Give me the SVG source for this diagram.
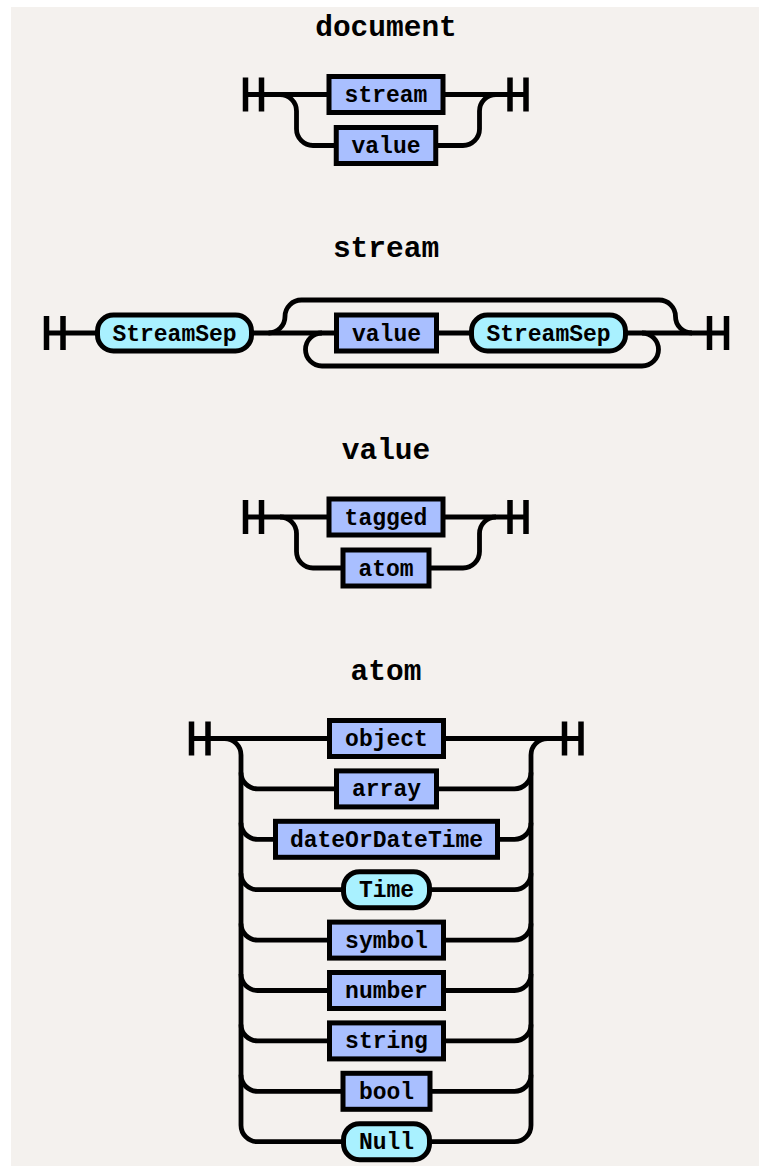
<svg xmlns="http://www.w3.org/2000/svg" width="759" height="1166" viewBox="0 0 759 1166">
<style>
.bg{fill:#F4F1EE}
.nt{fill:#A9BFFF;stroke:#000;stroke-width:5}
.tm{fill:#A9F1FF;stroke:#000;stroke-width:5}
.ln{fill:none;stroke:#000;stroke-width:4.8}
.bar{fill:none;stroke:#000;stroke-width:5.5}
.lbl{font-family:"Liberation Mono","DejaVu Sans Mono",monospace;font-weight:bold;font-size:23px;text-anchor:middle;fill:#000}
.title{font-family:"Liberation Mono","DejaVu Sans Mono",monospace;font-weight:bold;font-size:29.5px;text-anchor:middle;fill:#000}
</style>
<rect class="bg" x="11" y="7" width="748" height="1159"/>

<g id="titles">
<text class="title" x="386" y="36">document</text>
<text class="title" x="386" y="257">stream</text>
<text class="title" x="386" y="459">value</text>
<text class="title" x="386" y="680">atom</text>
</g>

<g id="connectors">
<!-- document -->
<path class="bar" d="M245.5 77.5V111.5M261.5 77.5V111.5M510 77.5V111.5M526 77.5V111.5"/>
<path class="ln" d="M245.5 94.5H329M443 94.5H526"/>
<path class="ln" d="M280 94.5A16.5 16.5 0 0 1 296.5 111V129A16.5 16.5 0 0 0 313 145.5H336.25M435.75 145.5H463A16.5 16.5 0 0 0 479.5 129V111A16.5 16.5 0 0 1 496 94.5"/>
<!-- stream -->
<path class="bar" d="M46.5 316V350M63 316V350M709.5 316V350M726.5 316V350"/>
<path class="ln" d="M46.5 333H97.5M251.5 333H336.5M436.5 333H471.5M625.5 333H726.5"/>
<path class="ln" d="M268.5 333A16.5 16.5 0 0 0 285 316.5A16.5 16.5 0 0 1 301.5 300H659A16.5 16.5 0 0 1 675.5 316.5A16.5 16.5 0 0 0 692 333"/>
<path class="ln" d="M642 333A16.5 16.5 0 0 1 658.5 349.5A16.5 16.5 0 0 1 642 366H322A16.5 16.5 0 0 1 305.5 349.5A16.5 16.5 0 0 1 322 333"/>
<!-- value -->
<path class="bar" d="M245.5 500V534M261.5 500V534M510 500V534M526 500V534"/>
<path class="ln" d="M245.5 517H329M443 517H526"/>
<path class="ln" d="M280 517A16.5 16.5 0 0 1 296.5 533.5V551.5A16.5 16.5 0 0 0 313 568H343M429 568H463A16.5 16.5 0 0 0 479.5 551.5V533.5A16.5 16.5 0 0 1 496 517"/>
<!-- atom -->
<path class="bar" d="M191.5 721.5V755.5M208 721.5V755.5M564.5 721.5V755.5M581 721.5V755.5"/>
<path class="ln" d="M191.5 738.5H329.5M443.5 738.5H581"/>
<path class="ln" d="M224.5 738.5A16.5 16.5 0 0 1 241 755V1125.2A16.5 16.5 0 0 0 257.5 1141.7H343.5M429.5 1141.7H514.5A16.5 16.5 0 0 0 531 1125.2V755A16.5 16.5 0 0 1 547.5 738.5"/>
<path class="ln" d="M241 772.4A16.5 16.5 0 0 0 257.5 788.9H336.5M436.5 788.9H514.5A16.5 16.5 0 0 0 531 772.4"/>
<path class="ln" d="M241 822.8A16.5 16.5 0 0 0 257.5 839.3H275.5M497.5 839.3H514.5A16.5 16.5 0 0 0 531 822.8"/>
<path class="ln" d="M241 873.2A16.5 16.5 0 0 0 257.5 889.7H343.5M429.5 889.7H514.5A16.5 16.5 0 0 0 531 873.2"/>
<path class="ln" d="M241 923.6A16.5 16.5 0 0 0 257.5 940.1H329.5M443.5 940.1H514.5A16.5 16.5 0 0 0 531 923.6"/>
<path class="ln" d="M241 974A16.5 16.5 0 0 0 257.5 990.5H329.5M443.5 990.5H514.5A16.5 16.5 0 0 0 531 974"/>
<path class="ln" d="M241 1024.4A16.5 16.5 0 0 0 257.5 1040.9H329.5M443.5 1040.9H514.5A16.5 16.5 0 0 0 531 1024.4"/>
<path class="ln" d="M241 1074.8A16.5 16.5 0 0 0 257.5 1091.3H343M430 1091.3H514.5A16.5 16.5 0 0 0 531 1074.8"/>
</g>

<g id="doc-stream"><rect class="nt" x="329" y="76.5" width="114" height="36"/><text class="lbl" x="386" y="102">stream</text></g>
<g id="doc-value"><rect class="nt" x="336.25" y="127.5" width="99.5" height="36"/><text class="lbl" x="386" y="153">value</text></g>

<g id="stream-sep1"><rect class="tm" x="97.5" y="315" width="154" height="36" rx="16"/><text class="lbl" x="174.5" y="340.5">StreamSep</text></g>
<g id="stream-value"><rect class="nt" x="336.5" y="315" width="100" height="36"/><text class="lbl" x="386.5" y="340.5">value</text></g>
<g id="stream-sep2"><rect class="tm" x="471.5" y="315" width="154" height="36" rx="16"/><text class="lbl" x="548.5" y="340.5">StreamSep</text></g>

<g id="value-tagged"><rect class="nt" x="329" y="499" width="114" height="36"/><text class="lbl" x="386" y="524.5">tagged</text></g>
<g id="value-atom"><rect class="nt" x="343" y="550" width="86" height="36"/><text class="lbl" x="386" y="575.5">atom</text></g>

<g id="atom-object"><rect class="nt" x="329.5" y="720.5" width="114" height="36"/><text class="lbl" x="386.5" y="746">object</text></g>
<g id="atom-array"><rect class="nt" x="336.5" y="770.9" width="100" height="36"/><text class="lbl" x="386.5" y="796.4">array</text></g>
<g id="atom-dateOrDateTime"><rect class="nt" x="275.5" y="821.3" width="222" height="36"/><text class="lbl" x="386.5" y="846.8">dateOrDateTime</text></g>
<g id="atom-Time"><rect class="tm" x="343.5" y="871.7" width="86" height="36" rx="16"/><text class="lbl" x="386.5" y="897.2">Time</text></g>
<g id="atom-symbol"><rect class="nt" x="329.5" y="922.1" width="114" height="36"/><text class="lbl" x="386.5" y="947.6">symbol</text></g>
<g id="atom-number"><rect class="nt" x="329.5" y="972.5" width="114" height="36"/><text class="lbl" x="386.5" y="998">number</text></g>
<g id="atom-string"><rect class="nt" x="329.5" y="1022.9" width="114" height="36"/><text class="lbl" x="386.5" y="1048.4">string</text></g>
<g id="atom-bool"><rect class="nt" x="343" y="1073.3" width="87" height="36"/><text class="lbl" x="386.5" y="1098.8">bool</text></g>
<g id="atom-Null"><rect class="tm" x="343.5" y="1123.7" width="86" height="36" rx="16"/><text class="lbl" x="386.5" y="1149.2">Null</text></g>
</svg>
